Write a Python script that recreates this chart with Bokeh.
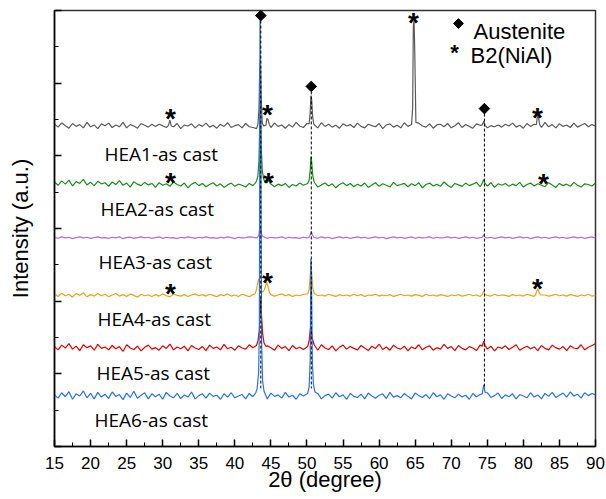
from bokeh.plotting import figure
from bokeh.models import Range1d, FixedTicker
from bokeh.core.properties import value
from bokeh.embed import file_html
from bokeh.resources import INLINE
import math

# ---------------- data ----------------
two_theta = [round(15 + 0.5 * i, 2) for i in range(151)]  # sampling grid 15..90

hea1_base = [888,879,891,883,876,889,881,886,877,892,880,885,875,888,
             883,890,878,885,880,892,877,886,882,876,889,884,879,887,
             881,887,883,878,891,880,889,875,885,882,888,877,886,881,
             890,879,884,876,887,881,891,878,883,886,877,889,880,878,
             875,888,882,887,878,890,881,885,876,886,879,892,882,878,
             889,880,885,877,891,881,887,879,884,876,888,882,886,878,
             890,881,877,887,883,880,889,875,885,888,879,884,877,891,
             881,886,878,890,882,879,888,876,885,887,880,889,877,883,
             891,878,886,881,876,888,884,889,877,883,880,885,879,887,
             882,890,879,884,876,889,881,887,883,878,892,880,886,877,
             888,881,885,878,890,879,884,889,880,886,882]
hea2_base = [728,719,731,722,733,717,729,724,735,720,727,718,730,723,
             726,716,728,721,732,719,725,714,729,722,718,727,720,724,
             713,726,719,723,716,728,721,717,725,712,722,727,718,724,
             715,721,726,717,723,713,720,725,716,722,719,714,724,718,
             717,723,716,720,726,715,722,718,724,713,721,717,725,719,
             716,722,727,714,720,725,717,723,712,721,726,718,724,715,
             722,717,725,713,720,726,716,723,719,714,727,718,721,724,
             715,723,718,726,712,721,725,717,722,716,728,719,713,724,
             720,716,725,718,722,727,715,721,717,726,713,723,719,724,
             716,722,718,727,714,721,725,717,723,719,715,726,720,713,
             724,718,722,716,727,719,714,723,721,717,725]
hea3_base = [576,573,577,574,576,572,575,577,574,576,573,575,577,574,
             575,573,576,574,577,572,575,576,573,575,577,574,576,573,
             575,577,573,576,574,575,572,576,574,577,575,573,576,574,
             577,574,575,573,576,574,577,575,572,576,574,575,577,576,
             574,577,575,573,576,574,575,577,573,576,574,575,573,576,
             574,576,575,573,577,574,576,572,575,577,574,576,573,575,
             577,574,576,573,575,577,574,576,572,575,577,574,576,573,
             575,577,573,576,574,575,577,573,576,574,575,577,574,576,
             573,575,577,574,576,573,575,577,574,576,573,575,577,574,
             576,573,575,577,574,576,572,575,577,574,576,573,575,577,
             574,576,573,575,577,574,576,573,575,577,574]
hea4_base = [420,413,422,415,419,411,421,416,423,412,418,414,421,415,
             419,412,417,421,414,418,413,420,416,411,419,415,417,413,
             418,414,420,415,412,419,416,414,418,413,417,420,415,418,
             414,419,416,412,418,415,420,414,417,413,419,416,412,418,
             415,419,416,413,418,414,417,420,415,418,413,417,415,419,
             416,413,418,415,417,414,419,416,413,418,415,417,414,419,
             415,418,413,417,416,419,414,417,415,418,413,416,419,415,
             417,414,418,416,413,419,415,417,414,418,416,413,417,415,
             418,414,416,419,415,417,413,418,416,414,419,415,417,416,
             413,418,415,417,414,419,416,413,418,415,417,414,416,419,
             415,417,414,418,416,413,417,415,419,414,416]
hea5_base = [275,266,279,271,283,268,276,264,280,272,277,265,281,270,
             274,266,278,269,275,262,280,271,267,276,263,273,279,268,
             272,265,277,270,282,266,274,269,276,263,278,271,267,275,
             264,279,270,274,266,281,269,273,265,277,271,268,280,272,
             266,274,269,277,272,265,279,270,275,264,278,269,273,267,
             276,268,274,265,280,271,267,277,263,273,279,268,275,270,
             266,278,271,264,276,270,282,267,274,265,279,271,268,276,
             263,274,269,280,266,273,277,265,272,268,281,270,275,264,
             278,270,266,275,271,264,279,272,268,276,263,274,270,277,
             267,273,280,265,271,276,269,274,264,278,270,266,279,272,
             268,275,264,277,271,269,280,266,273,278,283]
hea6_base = [142,133,148,137,151,130,145,139,153,134,146,131,149,136,
             144,132,150,138,143,129,147,135,152,133,141,148,131,145,
             137,144,130,149,139,134,146,132,142,136,150,131,140,145,
             133,147,138,141,130,145,136,148,134,139,143,131,146,137,
             140,135,143,131,147,138,142,133,149,136,141,130,145,139,
             134,143,137,146,131,140,144,133,148,137,142,130,146,138,
             135,144,131,147,139,133,141,145,132,149,136,140,134,146,
             138,131,147,140,135,143,132,148,137,142,130,145,139,134,
             144,136,141,130,146,137,143,133,148,135,140,147,132,142,
             137,145,131,143,139,134,148,136,142,131,146,138,149,135,
             141,147,136,150,139,144,133,148,140,146,142]

hea1_peak_x = [30.8, 31.0, 31.2, 43.2, 43.35, 43.45, 43.55, 43.65, 43.8,
               44.3, 44.45, 44.6, 44.8, 50.3, 50.45, 50.55, 50.65, 50.8, 50.95,
               64.5, 64.65, 64.75, 64.85, 64.95, 65.1, 74.3, 74.5, 74.7,
               81.8, 81.95, 82.05, 82.25]
hea1_peak_y = [884, 898, 882, 886, 930, 1040, 1070, 960, 890,
               884, 903, 900, 885, 888, 920, 966, 955, 905, 887,
               886, 930, 1160, 1172, 1080, 892, 885, 895, 884,
               886, 908, 912, 887]
hea2_peak_x = [42.8, 43.0, 43.2, 43.35, 43.45, 43.55, 43.65, 43.8, 44.0, 44.2,
               44.5, 44.7, 44.9, 50.1, 50.3, 50.45, 50.55, 50.65, 50.8, 51.0,
               74.3, 74.5, 74.7]
hea2_peak_y = [724, 730, 745, 790, 880, 944, 830, 760, 736, 726,
               727, 734, 724, 724, 733, 760, 798, 785, 745, 728,
               724, 735, 724]
hea3_peak_x = [43.2, 43.35, 43.5, 43.65, 43.8, 44.0, 50.3, 50.45, 50.6, 50.75, 50.95,
               74.3, 74.5, 74.7]
hea3_peak_y = [577, 585, 603, 590, 580, 577, 576, 582, 592, 582, 576,
               576, 583, 576]
hea4_peak_x = [42.8, 43.0, 43.15, 43.3, 43.45, 43.7, 43.9, 44.1, 44.3, 44.45, 44.6, 44.8, 45.0,
               50.1, 50.3, 50.45, 50.55, 50.65, 50.8, 51.0, 74.3, 74.5, 74.7,
               81.7, 81.9, 82.0, 82.2, 82.4]
hea4_peak_y = [420, 432, 448, 462, 445, 428, 425, 432, 445, 451, 440, 424, 418,
               420, 432, 470, 506, 480, 438, 422, 418, 428, 418,
               418, 430, 434, 423, 417]
hea5_peak_x = [43.0, 43.2, 43.4, 43.5, 43.6, 43.7, 43.85, 44.05, 44.3,
               50.1, 50.3, 50.5, 50.6, 50.75, 51.0, 74.3, 74.5, 74.7]
hea5_peak_y = [278, 290, 320, 370, 410, 360, 310, 285, 276,
               275, 292, 327, 320, 296, 280, 276, 290, 278]
hea6_peak_x = [42.9, 43.1, 43.3, 43.4, 43.5, 43.6, 43.7, 43.85, 44.05,
               50.1, 50.3, 50.45, 50.55, 50.65, 50.75, 50.9, 51.1, 74.3, 74.5, 74.7]
hea6_peak_y = [148, 160, 205, 320, 1260, 900, 300, 180, 152,
               146, 165, 240, 517, 420, 230, 170, 150, 145, 170, 148]

series_names = ["HEA1-as cast", "HEA2-as cast", "HEA3-as cast",
                "HEA4-as cast", "HEA5-as cast", "HEA6-as cast"]
series_colors = ["#5a5a5a", "#1a8c1a", "#b36be6", "#e6a41e", "#dd0000", "#2a72e0"]

# label anchors (2θ, intensity)
label_x = [21.93, 21.38, 21.1, 20.96, 20.82, 20.55]
label_y = [806, 655, 509, 352, 201, 72]

# Austenite reference lines / markers
aus_x = [43.6, 50.6, 74.6]
aus_y = [1186, 991, 930]
aus_line_bottom = [160, 160, 160]

# B2(NiAl) asterisk markers
b2_x = [31.08, 44.53, 64.77, 81.96, 31.08, 44.67, 82.79, 31.08, 44.53, 81.96]
b2_y = [916, 927, 1181, 919, 740, 740, 738, 435, 465, 449]

legend_labels = ["Austenite", "B2(NiAl)"]

x_ticks = [15, 20, 25, 30, 35, 40, 45, 50, 55, 60, 65, 70, 75, 80, 85, 90]
x_minor = [17.5, 22.5, 27.5, 32.5, 37.5, 42.5, 47.5, 52.5, 57.5, 62.5, 67.5,
           72.5, 77.5, 82.5, 87.5]
y_ticks = [0, 200, 400, 600, 800, 1000, 1200]
y_minor = [100, 300, 500, 700, 900, 1100]


def merge(base, px, py):
    pts = [(x, y) for x, y in zip(two_theta, base)
           if all(abs(x - q) >= 0.15 for q in px)]
    pts += list(zip(px, py))
    pts.sort()
    return [a for a, _ in pts], [b for _, b in pts]


bases = [hea1_base, hea2_base, hea3_base, hea4_base, hea5_base, hea6_base]
pxs = [hea1_peak_x, hea2_peak_x, hea3_peak_x, hea4_peak_x, hea5_peak_x, hea6_peak_x]
pys = [hea1_peak_y, hea2_peak_y, hea3_peak_y, hea4_peak_y, hea5_peak_y, hea6_peak_y]

# ---------------- figure ----------------
p = figure(width=606, height=499, output_backend="svg", toolbar_location=None,
           x_range=Range1d(15, 90), y_range=Range1d(0, 1200),
           min_border_left=54, min_border_right=11, min_border_top=10,
           min_border_bottom=53)
p.background_fill_color = "white"
p.border_fill_color = "white"
p.outline_line_color = "#333333"
p.outline_line_width = 1.5
p.xgrid.visible = False
p.ygrid.visible = False

for base, px, py, col in zip(bases, pxs, pys, series_colors):
    xs, ys = merge(base, px, py)
    p.line(xs, ys, line_color=col, line_width=1.2)

p.segment(x0=aus_x, y0=aus_y, x1=aus_x, y1=aus_line_bottom,
          line_color="black", line_width=1, line_dash="3 2")
p.scatter(x=aus_x, y=aus_y, marker="square", angle=math.pi / 4, size=7.5,
          color="black")

p.text(x=b2_x, y=b2_y, text=["*"] * len(b2_x), text_font=value("Liberation Sans"),
       text_font_style="bold", text_font_size="28px", text_align="center",
       text_baseline="middle", y_offset=5, text_color="black")

p.text(x=label_x, y=label_y, text=series_names, text_font=value("Open Sans"),
       text_font_size="19px", text_align="left", text_baseline="alphabetic",
       text_color="black")

# legend
p.scatter(x=[71.0], y=[1164], marker="square", angle=math.pi / 4, size=7,
          color="black")
p.text(x=[70.45], y=[1095], text=["*"], text_font=value("Liberation Sans"),
       text_font_style="bold", text_font_size="22px", text_align="center",
       text_baseline="middle", y_offset=4, text_color="black")
p.text(x=[73.09, 72.67], y=[1142, 1076], text=legend_labels,
       text_font=value("Liberation Sans"), text_font_size="22px",
       text_align="left", text_baseline="alphabetic", text_color="black")

# axes
p.xaxis.ticker = FixedTicker(ticks=x_ticks, minor_ticks=x_minor)
p.xaxis.axis_label = "2\u03b8 (degree)"
p.xaxis.axis_label_text_font = "Liberation Sans"
p.xaxis.axis_label_text_font_size = "22px"
p.xaxis.axis_label_text_font_style = "normal"
p.xaxis.axis_label_text_color = "black"
p.xaxis.axis_label_standoff = -5
p.xaxis.major_tick_in = 7
p.xaxis.major_tick_out = 0
p.xaxis.minor_tick_in = 4
p.xaxis.minor_tick_out = 0
p.xaxis.major_label_standoff = 10
p.xaxis.major_label_text_font = "Liberation Sans"
p.xaxis.major_label_text_font_size = "17px"
p.xaxis.major_label_text_color = "black"
p.xaxis.axis_line_width = 1.5
p.xaxis.axis_line_color = "black"
p.xaxis.major_tick_line_width = 1.5
p.xaxis.major_tick_line_color = "black"
p.xaxis.minor_tick_line_color = "black"

p.yaxis.ticker = FixedTicker(ticks=y_ticks, minor_ticks=y_minor)
p.yaxis.major_label_overrides = {t: "" for t in y_ticks}
p.yaxis.axis_label = "Intensity (a.u.)"
p.yaxis.axis_label_text_font = "Liberation Sans"
p.yaxis.axis_label_text_font_size = "22px"
p.yaxis.axis_label_text_font_style = "normal"
p.yaxis.axis_label_text_color = "black"
p.yaxis.axis_label_standoff = 22
p.yaxis.major_label_standoff = 0
p.yaxis.major_tick_in = 7
p.yaxis.major_tick_out = 0
p.yaxis.minor_tick_in = 4
p.yaxis.minor_tick_out = 0
p.yaxis.axis_line_width = 1.5
p.yaxis.axis_line_color = "black"
p.yaxis.major_tick_line_width = 1.5
p.yaxis.major_tick_line_color = "black"
p.yaxis.minor_tick_line_color = "black"

open("out.html", "w").write(file_html(p, INLINE))
